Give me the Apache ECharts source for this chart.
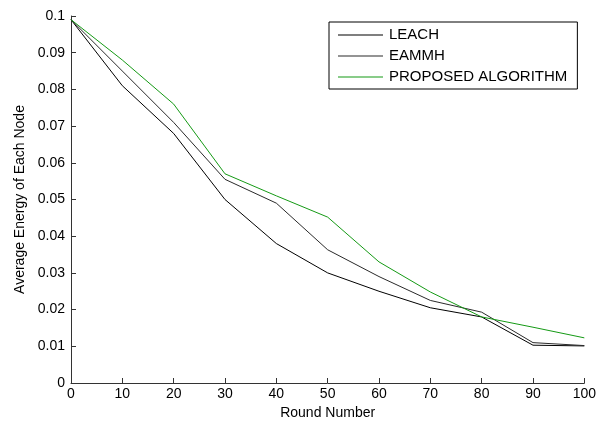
<!DOCTYPE html>
<html>
<head>
<meta charset="utf-8">
<script src="https://cdn.jsdelivr.net/npm/echarts@6/dist/echarts.min.js"></script>
<style>
  html, body { margin: 0; padding: 0; background: #fff; }
  #chart { width: 599px; height: 425px; }
</style>
</head>
<body>
<div id="chart"></div>
<script>
// Round numbers on the x axis
const rounds = [0, 10, 20, 30, 40, 50, 60, 70, 80, 90, 100];

// Average energy of each node
const leach = [0.099, 0.081, 0.068, 0.050, 0.038, 0.030, 0.025, 0.0205, 0.018, 0.0103, 0.0101];
const eammh = [0.099, 0.085, 0.071, 0.0555, 0.049, 0.0363, 0.029, 0.0225, 0.0193, 0.011, 0.0102];
const proposed = [0.099, 0.088, 0.076, 0.057, 0.051, 0.0452, 0.033, 0.0248, 0.018, 0.0152, 0.0123];

const seriesNames = ['LEACH', 'EAMMH', 'PROPOSED ALGORITHM'];
const seriesColors = ['#000000', '#2a2a2a', '#159a15'];

const pair = (arr) => rounds.map((r, i) => [r, arr[i]]);

const chart = echarts.init(document.getElementById('chart'));

const fontFamily = 'Liberation Sans, Arial, sans-serif';

const makeSeries = (i, arr) => ({
    name: seriesNames[i],
    type: 'line',
    data: pair(arr),
    symbol: 'none',
    lineStyle: { color: seriesColors[i], width: 1 },
    itemStyle: { color: seriesColors[i] }
});

const option = {
    animation: false,
    backgroundColor: '#fff',
    grid: {
        left: 71,
        right: 14,
        top: 16,
        bottom: 42
    },
    legend: {
        orient: 'vertical',
        left: 329,
        top: 22,
        itemWidth: 45,
        itemHeight: 16,
        itemGap: 5,
        padding: [5, 10, 4, 9],
        borderColor: '#000',
        borderWidth: 1,
        borderRadius: 0,
        backgroundColor: '#fff',
        icon: 'path://M0,0L45,0L45,1L0,1Z',
        textStyle: {
            fontFamily: fontFamily,
            fontSize: 15,
            lineHeight: 16,
            color: '#000',
            padding: [0, 0, 0, 1]
        },
        data: seriesNames
    },
    xAxis: {
        type: 'value',
        min: 0,
        max: 100,
        interval: 10,
        name: 'Round Number',
        nameLocation: 'middle',
        nameGap: 23,
        nameTextStyle: { fontFamily: fontFamily, fontSize: 14, color: '#000' },
        axisLine: { show: true, lineStyle: { color: '#333', width: 1 } },
        axisTick: { show: true, inside: true, length: 5, lineStyle: { color: '#333' } },
        axisLabel: { fontFamily: fontFamily, fontSize: 14, color: '#000', margin: 4 },
        splitLine: { show: false }
    },
    yAxis: {
        type: 'value',
        min: 0,
        max: 0.1,
        interval: 0.01,
        name: 'Average Energy of Each Node',
        nameLocation: 'middle',
        nameGap: 43,
        nameTextStyle: { fontFamily: fontFamily, fontSize: 14, color: '#000' },
        axisLine: { show: true, lineStyle: { color: '#333', width: 1 } },
        axisTick: { show: true, inside: true, length: 5, lineStyle: { color: '#333' } },
        axisLabel: {
            fontFamily: fontFamily,
            fontSize: 14,
            color: '#000',
            margin: 6,
            formatter: (v) => String(Math.round(v * 100) / 100)
        },
        splitLine: { show: false }
    },
    series: [
        makeSeries(0, leach),
        makeSeries(1, eammh),
        makeSeries(2, proposed)
    ]
};

chart.setOption(option);
</script>
</body>
</html>
